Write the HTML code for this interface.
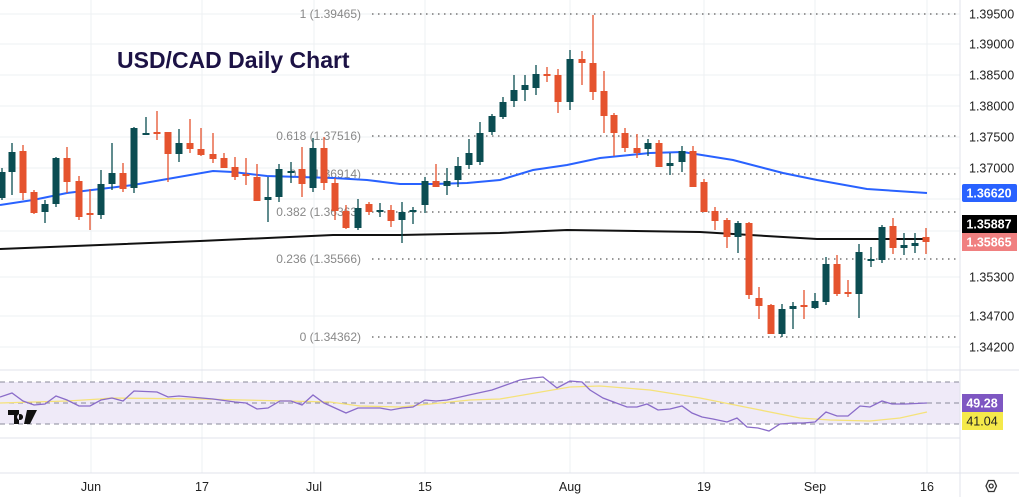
<!DOCTYPE html>
<html><head><meta charset="utf-8"><style>
body{margin:0;background:#fff;}
svg{display:block;font-family:"Liberation Sans",sans-serif;}
</style></head><body>
<svg id="s" width="1019" height="497" xmlns="http://www.w3.org/2000/svg">
<rect width="1019" height="497" fill="#fff"/>
<g id="grid" stroke="#eef0f3" stroke-width="1"></g>
<rect x="0" y="382" width="960" height="42" fill="#efeaf8"/>
<g stroke="#8a8a9a" stroke-dasharray="5,4" stroke-width="1">
<line x1="0" y1="382" x2="960" y2="382"/><line x1="0" y1="403" x2="960" y2="403"/><line x1="0" y1="424" x2="960" y2="424"/>
</g>
<line x1="0" y1="370" x2="1019" y2="370" stroke="#e0e3eb"/>
<line x1="0" y1="438" x2="960" y2="438" stroke="#e0e3eb"/>
<line x1="0" y1="473" x2="1019" y2="473" stroke="#e0e3eb"/>
<line x1="960" y1="0" x2="960" y2="497" stroke="#e0e3eb"/>
<g id="fib" stroke="#777" stroke-width="1.5" stroke-dasharray="1.5,4.5"></g>
<g id="fibt" fill="#888" font-size="12" text-anchor="end"></g>
<polyline fill="none" stroke="#2962ff" stroke-width="2" points="0,205 33,200 67,193 133,185 213,171 233,172 267,176 333,178 367,180 400,184 433,184 467,183 500,180 533,170 567,165 600,158 650,153 683,152 733,160 783,173 817,180 867,189 927,193"/>
<polyline fill="none" stroke="#111" stroke-width="2" points="0,249 200,241 333,235 400,235 500,233 567,230 700,232 817,239 927,239"/>
<g id="c"></g>
<polyline fill="none" stroke="#f5e27a" stroke-width="1.3" points="0,403 67,401 100,399 110,398 200,399 330,402 360,406 400,407 420,405 470,400 500,399 570,387 600,386 650,390 700,398 750,408 800,418 830,420 870,421 900,418 927,412"/>
<polyline fill="none" stroke="#8a6cc9" stroke-width="1.3" points="0,397 12,393 23,401 34,405 45,404 56,396 67,400 79,406 90,406 101,400 112,398 123,401 134,391 157,392 168,397 179,396 213,399 235,402 246,403 257,409 268,408 280,401 291,401 302,405 313,395 324,403 335,408 346,413 358,408 380,408 391,410 402,408 413,407 425,400 436,401 447,400 469,395 492,390 520,380 533,378 543,377 557,388 570,381 582,382 590,390 603,398 627,407 637,407 647,404 658,410 670,409 682,406 692,413 702,417 713,419 727,422 737,418 747,427 758,428 769,431 780,424 793,423 803,423 815,422 826,412 837,416 848,416 860,406 870,407 882,401 892,404 905,404 927,403"/>
<text x="117" y="68" font-size="23" font-weight="bold" fill="#1c1245">USD/CAD Daily Chart</text>
<g fill="#131722" font-size="12.5" font-weight="bold"><path d="M8 410h11v14h-5v-9h-6z M20 414a3 3 0 1 0 0.1 0z M27 410h10l-7 14h-6z" fill="#111"/></g>
<g id="ax" fill="#222" font-size="12.5"></g>
<rect x="962" y="184" width="55" height="18" fill="#2962ff" rx="2"/><text x="989" y="197.5" fill="#fff" font-size="12.5" text-anchor="middle" font-weight="bold">1.36620</text>
<rect x="962" y="215" width="55" height="18" fill="#000"/><text x="989" y="228.5" fill="#fff" font-size="12.5" text-anchor="middle" font-weight="bold">1.35887</text>
<rect x="962" y="233" width="55" height="18" fill="#f08080"/><text x="989" y="246.5" fill="#fff" font-size="12.5" text-anchor="middle" font-weight="bold">1.35865</text>
<rect x="962" y="394" width="41" height="18" fill="#7e57c2"/><text x="982" y="407.5" fill="#fff" font-size="12.5" text-anchor="middle" font-weight="bold">49.28</text>
<rect x="962" y="412" width="41" height="18" fill="#f5e94a"/><text x="982" y="425.5" fill="#222" font-size="12.5" text-anchor="middle">41.04</text>
<g fill="none" stroke="#333" stroke-width="1.3"><polygon points="986,486 988.5,480.5 994,480.5 996.5,486 994,491.5 988.5,491.5"/><circle cx="991.2" cy="486" r="2"/></g>
</svg>
<script>
var NS="http://www.w3.org/2000/svg";
function el(p,t,a,txt){var e=document.createElementNS(NS,t);for(var k in a)e.setAttribute(k,a[k]);if(txt)e.textContent=txt;document.getElementById(p).appendChild(e);return e;}
[14,44,75,106,137,168,199,231,277,316,347].forEach(function(y){el("grid","line",{x1:0,y1:y,x2:960,y2:y});});
[91,202,314,425,570,704,815,927].forEach(function(x){el("grid","line",{x1:x,y1:0,x2:x,y2:473});});
[[14,"1 (1.39465)"],[136,"0.618 (1.37516)"],[174,"0.5 (1.36914)"],[212,"0.382 (1.36363)"],[259,"0.236 (1.35566)"],[337,"0 (1.34362)"]].forEach(function(f){
 el("fib","line",{x1:372,y1:f[0],x2:957,y2:f[0]});el("fibt","text",{x:361,y:f[0]+4},f[1]);});
[[14,"1.39500"],[44,"1.39000"],[75,"1.38500"],[106,"1.38000"],[137,"1.37500"],[168,"1.37000"],[277,"1.35300"],[316,"1.34700"],[347,"1.34200"]].forEach(function(a){el("ax","text",{x:969,y:a[0]+4.5},a[1]);});
[[91,"Jun"],[202,"17"],[314,"Jul"],[425,"15"],[570,"Aug"],[704,"19"],[815,"Sep"],[927,"16"]].forEach(function(a){el("ax","text",{x:a[0],y:491,"text-anchor":"middle"},a[1]);});
// x, type(t/r), bodyTop, bodyBot, wickTop, wickBot
var C=[[2,"t",172,198,168,200],[12,"t",152,172,143,195],[23,"r",151,193,145,200],[34,"r",192,213,190,214],[45,"t",204,212,200,223],[56,"t",158,204,157,207],[67,"r",158,182,147,193],[79,"r",181,217,176,220],[90,"r",213,215,189,230],[101,"t",184,215,170,219],[112,"t",173,184,143,190],[123,"r",173,189,163,192],[134,"t",128,188,127,193],[146,"t",133,135,117,135],[157,"r",132,134,111,140],[168,"r",132,154,132,182],[179,"t",143,154,129,162],[190,"r",143,149,119,153],[201,"r",149,155,128,156],[213,"r",154,159,133,163],[224,"r",158,168,153,168],[235,"r",167,177,157,180],[246,"r",174,176,158,185],[257,"r",177,201,164,201],[268,"t",197,200,177,222],[279,"t",169,197,164,202],[291,"t",171,173,162,183],[302,"r",169,184,147,197],[313,"t",148,188,138,192],[324,"r",148,183,137,190],[335,"r",183,211,178,220],[346,"r",211,228,205,229],[358,"t",208,228,199,230],[369,"r",204,212,202,215],[380,"t",210,212,203,217],[391,"r",210,221,205,227],[402,"t",212,220,202,243],[413,"t",210,212,207,224],[425,"t",181,205,177,213],[436,"r",181,187,164,187],[447,"t",181,186,168,195],[458,"t",166,180,157,187],[469,"t",153,165,139,169],[480,"t",133,162,122,165],[492,"t",116,132,114,135],[503,"t",102,117,97,119],[514,"t",90,101,75,107],[525,"t",85,90,75,101],[536,"t",74,88,65,95],[547,"r",74,76,67,82],[558,"r",75,102,69,113],[570,"t",59,102,50,110],[582,"r",59,63,51,85],[593,"r",63,92,15,100],[604,"r",91,116,71,133],[614,"r",115,133,113,156],[625,"r",133,148,128,152],[637,"r",148,153,134,158],[648,"t",143,149,139,156],[659,"r",143,167,140,167],[670,"t",163,166,153,175],[682,"t",151,162,146,172],[693,"r",151,187,146,187],[704,"r",182,212,179,212],[715,"r",211,221,207,230],[727,"r",220,237,218,248],[738,"t",223,237,221,253],[749,"r",223,295,222,299],[759,"r",298,306,287,319],[771,"r",305,334,304,334],[782,"t",309,334,304,337],[793,"t",306,309,302,329],[804,"r",305,307,290,319],[815,"t",301,308,293,309],[826,"t",264,302,257,305],[837,"r",264,294,255,296],[848,"r",292,294,280,297],[859,"t",252,294,244,318],[871,"t",259,261,247,267],[882,"t",227,260,225,263],[893,"r",226,248,218,254],[904,"t",245,248,233,255],[915,"t",243,246,233,253],[926,"r",237,242,228,254]];
C.forEach(function(c){var col=c[1]=="t"?"#0b4d52":"#e5532e";
 el("c","line",{x1:c[0],y1:c[4],x2:c[0],y2:c[5],stroke:col,"stroke-width":1.3});
 el("c","rect",{x:c[0]-3.5,y:c[2],width:7,height:Math.max(2,c[3]-c[2]),fill:col});});
</script>
</body></html>
